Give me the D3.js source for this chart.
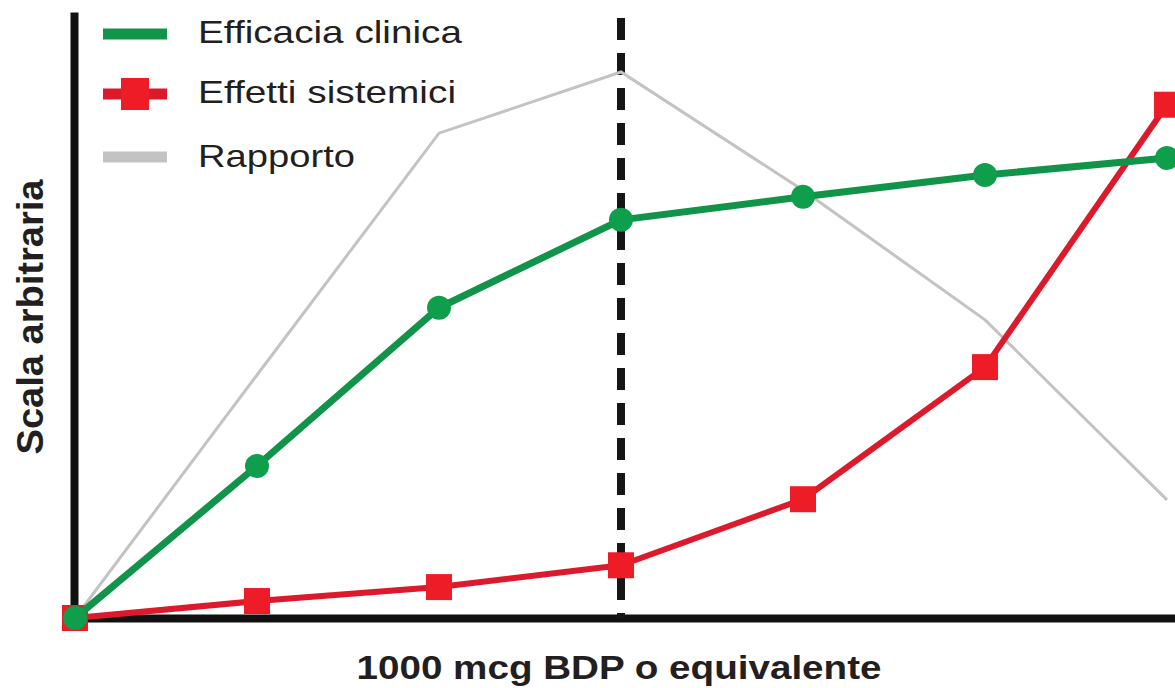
<!DOCTYPE html>
<html>
<head>
<meta charset="utf-8">
<script src="https://d3js.org/d3.v7.min.js"></script>
<style>
  html, body { margin: 0; padding: 0; background: #ffffff; }
  svg { display: block; }
</style>
</head>
<body>
<div id="vis1"></div>
<script>
const FRAME_WIDTH = 1175;
const FRAME_HEIGHT = 688;

// dose steps along the x axis (no tick labels shown)
const DOSE_STEPS = [0, 1, 2, 3, 4, 5, 6];
const REF_STEP = 3; // 1000 mcg BDP

// values on an arbitrary 0-100 scale
const EFFICACIA = [0, 25.1, 51.2, 65.7, 69.5, 73.1, 75.9];
const EFFETTI = [0, 2.8, 5.1, 8.7, 19.6, 41.4, 84.7];
const RAPPORTO = [0, 40.1, 80.0, 90.1, 70.6, 49.2, 19.5];

const SERIES_NAMES = ["Efficacia clinica", "Effetti sistemici", "Rapporto"];
const X_TITLE = "1000 mcg BDP o equivalente";
const Y_TITLE = "Scala arbitraria";

const GREEN = "#11944a";
const RED = "#e81c2a";
const GRAY = "#c3c3c3";

const FRAME1 = d3.select("#vis1")
                  .append("svg")
                    .attr("width", FRAME_WIDTH)
                    .attr("height", FRAME_HEIGHT);

const X_SCALE = d3.scaleLinear()
                  .domain([0, 6])
                  .range([75, 1167]);

const Y_SCALE = d3.scaleLinear()
                  .domain([0, 100])
                  .range([618, 12]);

// axes: plain thick black lines, no ticks
const X_AXIS_SCALE = X_SCALE.copy().range([70, 1175]);
const xAxis = FRAME1.append("g")
      .attr("transform", "translate(0," + Y_SCALE(0) + ")")
      .call(d3.axisBottom(X_AXIS_SCALE).tickValues([]).tickSizeOuter(0));
xAxis.select(".domain").attr("stroke", "#111").attr("stroke-width", 8);

const yAxis = FRAME1.append("g")
      .attr("transform", "translate(" + (X_SCALE(0) - 1) + ",0)")
      .call(d3.axisLeft(Y_SCALE.copy().range([622, 12])).tickValues([]).tickSizeOuter(0));
yAxis.select(".domain").attr("stroke", "#111").attr("stroke-width", 8);

// reference dose dashed line
FRAME1.append("line")
      .attr("x1", X_SCALE(REF_STEP))
      .attr("x2", X_SCALE(REF_STEP))
      .attr("y1", Y_SCALE(99))
      .attr("y2", Y_SCALE(0))
      .attr("stroke", "#161616")
      .attr("stroke-width", 8)
      .attr("stroke-dasharray", "22,13");

const line = d3.line()
      .x((d, i) => X_SCALE(DOSE_STEPS[i]))
      .y((d) => Y_SCALE(d));

// Rapporto
FRAME1.append("path")
      .datum(RAPPORTO)
      .attr("d", line)
      .attr("fill", "none")
      .attr("stroke", GRAY)
      .attr("stroke-width", 3);

// Effetti sistemici
FRAME1.append("path")
      .datum(EFFETTI)
      .attr("d", line)
      .attr("fill", "none")
      .attr("stroke", "#dd1a2b")
      .attr("stroke-width", 6)
      .attr("stroke-linejoin", "round");

FRAME1.selectAll(".sq")
      .data(EFFETTI)
      .enter()
      .append("rect")
        .attr("class", "sq")
        .attr("x", (d, i) => X_SCALE(DOSE_STEPS[i]) - 13)
        .attr("y", (d) => Y_SCALE(d) - 13)
        .attr("width", 26)
        .attr("height", 26)
        .attr("fill", "#ee1c26");

// Efficacia clinica
FRAME1.append("path")
      .datum(EFFICACIA)
      .attr("d", line)
      .attr("fill", "none")
      .attr("stroke", GREEN)
      .attr("stroke-width", 7)
      .attr("stroke-linejoin", "round");

FRAME1.selectAll(".dot")
      .data(EFFICACIA)
      .enter()
      .append("circle")
        .attr("class", "dot")
        .attr("cx", (d, i) => X_SCALE(DOSE_STEPS[i]))
        .attr("cy", (d) => Y_SCALE(d))
        .attr("r", 12)
        .attr("fill", "#0f9e4b");

// legend
const LEGEND = FRAME1.append("g");
const LEG_Y = [34, 94, 157];
const LEG_BASE = [43, 103, 167];
const LEG_LEN = [264, 258, 157];
const LEG_COLORS = [GREEN, "#dd1a2b", GRAY];

SERIES_NAMES.forEach((name, i) => {
  LEGEND.append("line")
        .attr("x1", 103).attr("x2", 167)
        .attr("y1", LEG_Y[i]).attr("y2", LEG_Y[i])
        .attr("stroke", LEG_COLORS[i])
        .attr("stroke-width", 11);
  LEGEND.append("text")
        .attr("x", 198)
        .attr("y", LEG_BASE[i])
        .attr("font-family", "Liberation Sans, Arial, sans-serif")
        .attr("font-size", 32)
        .attr("textLength", LEG_LEN[i])
        .attr("lengthAdjust", "spacingAndGlyphs")
        .attr("fill", "#231f20")
        .text(name);
});
LEGEND.append("rect")
      .attr("x", 121).attr("y", 78)
      .attr("width", 28).attr("height", 32)
      .attr("fill", "#ee1c26");

// axis titles
FRAME1.append("text")
      .attr("x", X_SCALE(REF_STEP) - 2)
      .attr("y", 679)
      .attr("text-anchor", "middle")
      .attr("font-family", "Liberation Sans, Arial, sans-serif")
      .attr("font-weight", "bold")
      .attr("font-size", 33)
      .attr("textLength", 525)
      .attr("lengthAdjust", "spacingAndGlyphs")
      .attr("fill", "#231f20")
      .text(X_TITLE);

FRAME1.append("text")
      .attr("transform", "translate(43,317) rotate(-90)")
      .attr("text-anchor", "middle")
      .attr("font-family", "Liberation Sans, Arial, sans-serif")
      .attr("font-weight", "bold")
      .attr("font-size", 36)
      .attr("textLength", 275)
      .attr("lengthAdjust", "spacingAndGlyphs")
      .attr("fill", "#231f20")
      .text(Y_TITLE);
</script>
</body>
</html>
